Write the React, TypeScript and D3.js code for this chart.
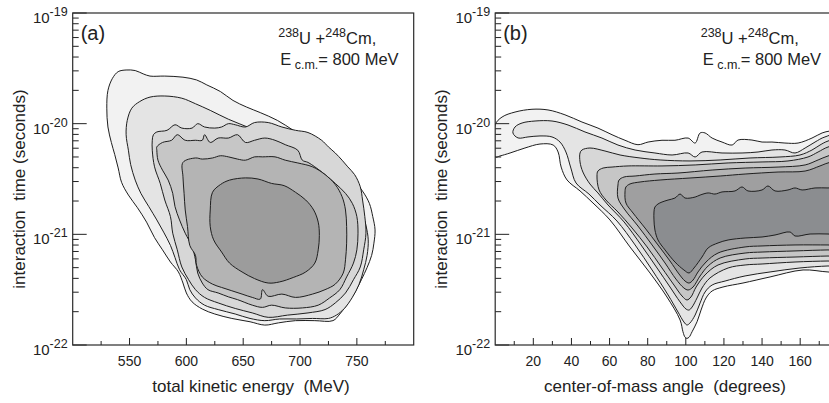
import React, { useRef, useEffect } from 'react';
import * as d3 from 'd3';

type Pt = [number, number];

// panel (a) contours: [total kinetic energy (MeV), log10 of interaction time (s)]
const tkeLevel1: Pt[] = [[531,-19.70],[535,-19.59],[540,-19.53],[547,-19.515],[555,-19.52],[562,-19.55],[568,-19.57],[581,-19.57],[597,-19.58],[609,-19.605],[618,-19.65],[630,-19.71],[641,-19.79],[653,-19.85],[665,-19.90],[680,-19.97],[694,-20.06],[707,-20.15],[716,-20.21],[720,-20.28],[726,-20.34],[737,-20.41],[746,-20.50],[755,-20.61],[761,-20.72],[764,-20.84],[766,-20.96],[765,-21.08],[763,-21.19],[759,-21.30],[754,-21.41],[748,-21.53],[741,-21.64],[735,-21.72],[729,-21.78],[713,-21.78],[696,-21.78],[681,-21.80],[669,-21.82],[656,-21.79],[640,-21.76],[625,-21.72],[614,-21.675],[605,-21.61],[600,-21.53],[597,-21.44],[593,-21.34],[586,-21.25],[579,-21.14],[572,-21.03],[565,-20.89],[557,-20.76],[549,-20.645],[543,-20.53],[540,-20.40],[537,-20.28],[534,-20.17],[531,-20.03],[530,-19.86]];
const tkeLevel2: Pt[] = [[552,-19.86],[559,-19.80],[568,-19.76],[581,-19.75],[596,-19.77],[608,-19.82],[621,-19.88],[637,-19.96],[656,-20.04],[675,-20.13],[694,-20.20],[707,-20.265],[716,-20.33],[722,-20.38],[729,-20.455],[740,-20.545],[748,-20.65],[754,-20.78],[758,-20.92],[760,-21.05],[759,-21.19],[756,-21.32],[752,-21.45],[746,-21.57],[739,-21.67],[732,-21.73],[725,-21.76],[711,-21.76],[697,-21.765],[682,-21.765],[669,-21.78],[656,-21.76],[643,-21.72],[628,-21.68],[616,-21.64],[608,-21.575],[603,-21.50],[600,-21.41],[594,-21.32],[590,-21.21],[586,-21.10],[580,-20.98],[574,-20.87],[567,-20.75],[560,-20.63],[555,-20.51],[551,-20.37],[549,-20.24],[547,-20.10],[548,-19.97]];
const tkeLevel3: Pt[] = [[571,-20.10],[574,-20.075],[583,-20.06],[590,-20.01],[596,-20.04],[605,-20.04],[610,-20.00],[616,-20.03],[625,-20.04],[631,-20.03],[637,-20.00],[643,-20.01],[652,-20.03],[660,-19.99],[672,-19.99],[684,-20.03],[696,-20.06],[707,-20.08],[719,-20.15],[725,-20.21],[731,-20.265],[737,-20.33],[742,-20.39],[748,-20.46],[753,-20.57],[755,-20.69],[757,-20.84],[758,-20.99],[756,-21.14],[753,-21.295],[747,-21.41],[740,-21.53],[731,-21.62],[722,-21.68],[707,-21.71],[689,-21.73],[672,-21.75],[658,-21.71],[643,-21.67],[628,-21.62],[616,-21.57],[608,-21.50],[602,-21.41],[596,-21.295],[592,-21.14],[588,-20.99],[586,-20.84],[581,-20.69],[577,-20.54],[572,-20.39],[570,-20.24],[570,-20.15]];
const tkeLevel4: Pt[] = [[574,-20.21],[579,-20.17],[587,-20.15],[592,-20.10],[599,-20.15],[608,-20.15],[614,-20.15],[616,-20.10],[621,-20.17],[628,-20.13],[637,-20.13],[645,-20.10],[652,-20.17],[660,-20.15],[669,-20.13],[678,-20.15],[687,-20.19],[698,-20.24],[702,-20.33],[707,-20.35],[713,-20.39],[722,-20.46],[731,-20.54],[740,-20.63],[746,-20.72],[750,-20.84],[751,-20.99],[750,-21.14],[747,-21.26],[741,-21.385],[735,-21.50],[726,-21.575],[716,-21.64],[702,-21.665],[687,-21.665],[675,-21.64],[667,-21.66],[658,-21.64],[645,-21.59],[637,-21.565],[628,-21.53],[619,-21.50],[614,-21.44],[610,-21.35],[608,-21.23],[605,-21.11],[599,-20.99],[594,-20.87],[590,-20.75],[588,-20.63],[584,-20.51],[579,-20.42],[575,-20.33],[574,-20.24]];
const tkeLevel5: Pt[] = [[597,-20.35],[608,-20.31],[614,-20.32],[623,-20.31],[630,-20.29],[637,-20.30],[645,-20.32],[652,-20.33],[660,-20.30],[667,-20.30],[678,-20.30],[687,-20.33],[698,-20.355],[711,-20.39],[722,-20.46],[731,-20.55],[737,-20.66],[740,-20.78],[741,-20.93],[741,-21.08],[740,-21.23],[738,-21.35],[731,-21.45],[722,-21.50],[711,-21.54],[696,-21.57],[684,-21.54],[672,-21.56],[667,-21.50],[665,-21.585],[658,-21.57],[649,-21.54],[640,-21.51],[631,-21.48],[623,-21.45],[614,-21.385],[609,-21.28],[608,-21.19],[603,-21.10],[601,-20.93],[599,-20.78],[598,-20.63],[597,-20.48]];
const tkeLevel6: Pt[] = [[623,-20.62],[630,-20.55],[638,-20.51],[652,-20.49],[663,-20.50],[675,-20.54],[686,-20.56],[696,-20.62],[705,-20.69],[712,-20.78],[716,-20.89],[717,-21.01],[716,-21.14],[713,-21.26],[705,-21.34],[694,-21.39],[682,-21.43],[672,-21.44],[660,-21.40],[649,-21.34],[638,-21.26],[631,-21.16],[624,-21.05],[621,-20.93],[621,-20.78]];

// panel (b) contours: [center-of-mass angle (deg), log10 of interaction time (s)]
const angleLevel1: Pt[] = [[0,-20.01],[3.6,-19.94],[10.4,-19.895],[19.3,-19.87],[27.7,-19.876],[36.6,-19.92],[45.5,-19.985],[53.9,-20.04],[61.3,-20.10],[68.1,-20.15],[74.9,-20.19],[80.2,-20.166],[87.5,-20.15],[94.3,-20.15],[101.2,-20.13],[104.9,-20.175],[107.5,-20.084],[110.1,-20.084],[113.8,-20.13],[119,-20.166],[124.3,-20.193],[127.4,-20.148],[134.7,-20.148],[140,-20.166],[145.2,-20.166],[152,-20.175],[158.9,-20.175],[166.2,-20.13],[171.5,-20.084],[175.7,-20.066],[183.5,-20.057],[183.5,-21.34],[174.6,-21.34],[161.5,-21.322],[144.2,-21.385],[130,-21.44],[119.5,-21.476],[113.8,-21.512],[110.6,-21.575],[108,-21.684],[105.9,-21.79],[103.3,-21.88],[101.7,-21.93],[100.6,-21.94],[99.6,-21.93],[98.5,-21.88],[97,-21.774],[90.1,-21.566],[81.2,-21.349],[70.7,-21.114],[60.2,-20.87],[51.3,-20.717],[44.5,-20.608],[37.7,-20.509],[34.6,-20.392],[33,-20.256],[30.4,-20.193],[23.5,-20.184],[15.6,-20.22],[7.8,-20.265],[2.5,-20.292],[0,-20.301]];
const angleLevel2: Pt[] = [[9.3,-20.084],[10.4,-20.03],[14.1,-19.994],[20.9,-19.976],[29.8,-19.976],[38.2,-20.012],[47.1,-20.075],[56,-20.13],[64.4,-20.193],[73.4,-20.238],[83.8,-20.265],[92.8,-20.283],[101.2,-20.265],[104.9,-20.301],[108.5,-20.256],[119,-20.265],[129.5,-20.265],[137.9,-20.256],[145.2,-20.238],[152,-20.238],[157.3,-20.265],[162.6,-20.22],[167.8,-20.166],[173,-20.12],[183.5,-20.093],[183.5,-21.286],[174.6,-21.286],[159.9,-21.304],[144.2,-21.34],[131.1,-21.376],[120.6,-21.422],[113.8,-21.458],[110.1,-21.521],[107.5,-21.62],[104.9,-21.729],[102.2,-21.801],[100.6,-21.819],[99,-21.792],[95.9,-21.702],[90.7,-21.548],[82.3,-21.322],[73.4,-21.096],[63.9,-20.88],[55,-20.735],[49.2,-20.636],[42.4,-20.536],[39.7,-20.401],[37.1,-20.256],[34,-20.166],[29.8,-20.12],[23.5,-20.111],[17.2,-20.12],[12,-20.129]];
const angleLevel3: Pt[] = [[44.5,-20.265],[45.5,-20.238],[49.7,-20.22],[57.6,-20.247],[65.5,-20.283],[76,-20.31],[86.5,-20.328],[102.2,-20.337],[118,-20.328],[133.7,-20.31],[149.4,-20.301],[159.9,-20.283],[166.2,-20.238],[170.4,-20.193],[174.6,-20.157],[183.5,-20.13],[183.5,-21.241],[174.6,-21.241],[157.3,-21.25],[140,-21.268],[131.1,-21.277],[122.2,-21.304],[112.7,-21.394],[108.5,-21.485],[105.9,-21.575],[103.3,-21.657],[101.7,-21.684],[100.1,-21.675],[97,-21.611],[91.7,-21.476],[84.9,-21.304],[76.5,-21.096],[67.6,-20.888],[59.2,-20.735],[53.9,-20.626],[49.7,-20.545],[46,-20.437],[44.5,-20.346]];
const angleLevel4: Pt[] = [[53.4,-20.473],[53.9,-20.428],[56.6,-20.401],[61.3,-20.392],[69.7,-20.382],[87.5,-20.382],[104.9,-20.373],[122.2,-20.355],[140,-20.346],[153.6,-20.337],[164.1,-20.301],[169.4,-20.256],[174.6,-20.211],[183.5,-20.184],[183.5,-21.196],[174.6,-21.196],[157.3,-21.205],[140,-21.214],[131.1,-21.223],[116.9,-21.277],[110.1,-21.367],[105.4,-21.476],[102.7,-21.566],[100.6,-21.593],[98,-21.557],[93.8,-21.458],[87.5,-21.304],[79.7,-21.114],[71.8,-20.943],[64.4,-20.798],[58.1,-20.69],[54.5,-20.599]];
const angleLevel5: Pt[] = [[64.4,-20.554],[65,-20.509],[67.6,-20.482],[73.4,-20.473],[83.8,-20.455],[95.9,-20.446],[113.8,-20.419],[131.1,-20.401],[148.4,-20.392],[162.6,-20.373],[169.4,-20.328],[174.6,-20.292],[183.5,-20.256],[183.5,-21.141],[174.6,-21.141],[157.3,-21.15],[140,-21.16],[131.1,-21.169],[118,-21.214],[111.7,-21.286],[107.5,-21.376],[103.8,-21.476],[101.2,-21.503],[99,-21.485],[94.8,-21.404],[89.1,-21.259],[82.3,-21.096],[74.9,-20.925],[68.1,-20.78],[64.4,-20.672]];
const angleLevel6: Pt[] = [[68.1,-20.617],[68.6,-20.572],[70.7,-20.545],[76,-20.527],[86.5,-20.509],[102.2,-20.491],[118,-20.473],[131.1,-20.455],[148.4,-20.437],[162.6,-20.428],[170.4,-20.382],[174.6,-20.355],[183.5,-20.328],[183.5,-21.096],[174.6,-21.096],[157.3,-21.096],[140,-21.105],[131.1,-21.114],[116.9,-21.169],[110.6,-21.25],[106.4,-21.34],[103.8,-21.413],[101.7,-21.44],[99.6,-21.422],[96.4,-21.358],[91.7,-21.241],[85.4,-21.096],[78.6,-20.943],[72.3,-20.807],[68.6,-20.717]];
const angleLevel7: Pt[] = [[83.3,-20.798],[83.8,-20.753],[85.4,-20.726],[87.5,-20.708],[90.7,-20.69],[94.3,-20.672],[97,-20.636],[99.6,-20.672],[104.9,-20.663],[107.5,-20.645],[111.7,-20.626],[115.3,-20.636],[119,-20.617],[125.8,-20.608],[129.5,-20.572],[132.6,-20.608],[140,-20.599],[143.1,-20.563],[146.8,-20.608],[153.6,-20.599],[157.3,-20.581],[161,-20.599],[167.8,-20.581],[174.6,-20.581],[183.5,-20.581],[183.5,-21.0],[174.6,-20.997],[165.2,-20.997],[157.3,-21.015],[154.7,-20.979],[146.8,-21.006],[140,-21.024],[131.1,-21.033],[122.2,-21.051],[116.9,-21.078],[111.7,-21.123],[108.5,-21.205],[104.3,-21.304],[101.7,-21.349],[99,-21.322],[94.3,-21.25],[89.1,-21.141],[85.4,-21.051],[83.8,-20.961],[83.3,-20.87]];

const tkeLevels = [tkeLevel1, tkeLevel2, tkeLevel3, tkeLevel4, tkeLevel5, tkeLevel6];
const angleLevels = [angleLevel1, angleLevel2, angleLevel3, angleLevel4, angleLevel5, angleLevel6, angleLevel7];

const energyTicks = [550, 600, 650, 700, 750];
const energyMinorTicks = [525, 575, 625, 675, 725, 775];
const angleTicks = [20, 40, 60, 80, 100, 120, 140, 160];
const angleMinorTicks = [10, 30, 50, 70, 90, 110, 130, 150, 170];
const decadeExponents = [-22, -21, -20, -19];

const tkeFills = ['#f2f2f2', '#e4e4e4', '#d7d7d7', '#c6c6c6', '#b4b4b4', '#9c9c9c'];
const angleFills = ['#f2f2f2', '#e4e4e4', '#d7d7d7', '#c6c6c6', '#b4b4b4', '#9f9fa0', '#8b8d90'];

const FONT = "'Liberation Sans', Arial, Helvetica, sans-serif";

const drawPanel = (svg, opts) => {
    const { x, y, levels, fills, majorX, minorX, tag, xTitle, xTitleX, clipId } = opts;
    const [left, right] = x.range();
    const [bottom, top] = y.range();

    svg.append('defs').append('clipPath').attr('id', clipId)
        .append('rect')
        .attr('x', left).attr('y', top)
        .attr('width', right - left).attr('height', bottom - top);

    const contour = d3.line<Pt>()
        .x(d => x(d[0]))
        .y(d => y(Math.pow(10, d[1])))
        .curve(d3.curveCatmullRomClosed.alpha(0.5));

    const g = svg.append('g').attr('clip-path', `url(#${clipId})`);
    levels.forEach((lv, i) => {
        g.append('path')
            .attr('d', contour(lv))
            .attr('fill', fills[i])
            .attr('stroke', '#1e1e1e')
            .attr('stroke-width', 1)
            .attr('stroke-linejoin', 'round');
    });

    // log ticks on the left, pointing inward
    svg.selectAll(null)
        .data(y.ticks())
        .join('line')
        .attr('x1', left)
        .attr('x2', d => {
            const e = Math.log10(d);
            return left + (Math.abs(e - Math.round(e)) < 1e-6 ? 14 : 6);
        })
        .attr('y1', d => y(d)).attr('y2', d => y(d))
        .attr('stroke', '#222').attr('stroke-width', 1);

    // x ticks pointing up
    svg.selectAll(null).data(majorX).join('line')
        .attr('x1', d => x(d)).attr('x2', d => x(d))
        .attr('y1', bottom).attr('y2', bottom - 7)
        .attr('stroke', '#222').attr('stroke-width', 1);
    svg.selectAll(null).data(minorX).join('line')
        .attr('x1', d => x(d)).attr('x2', d => x(d))
        .attr('y1', bottom).attr('y2', bottom - 4)
        .attr('stroke', '#222').attr('stroke-width', 1);

    // frame
    svg.append('rect')
        .attr('x', left).attr('y', top)
        .attr('width', right - left).attr('height', bottom - top)
        .attr('fill', 'none').attr('stroke', '#2a2a2a').attr('stroke-width', 1.2);

    // y tick labels 10^n
    const yl = svg.selectAll(null).data(decadeExponents).join('text')
        .attr('x', left - 5)
        .attr('y', d => y(Math.pow(10, d)) + 10)
        .attr('text-anchor', 'end')
        .attr('font-family', FONT)
        .attr('fill', '#222');
    yl.append('tspan').attr('font-size', 15).text('10');
    yl.append('tspan').attr('font-size', 12.5).attr('dy', -7).text(d => `${d}`);

    svg.selectAll(null).data(majorX).join('text')
        .attr('x', d => x(d)).attr('y', 366)
        .attr('text-anchor', 'middle')
        .attr('font-family', FONT).attr('font-size', 14).attr('fill', '#222')
        .text(d => d);

    svg.append('text')
        .attr('x', xTitleX).attr('y', 392)
        .attr('text-anchor', 'middle')
        .attr('font-family', FONT).attr('font-size', 17).attr('fill', '#222')
        .style('white-space', 'pre')
        .text(xTitle);

    svg.append('text')
        .attr('transform', `translate(${left - 48},189) rotate(-90)`)
        .attr('text-anchor', 'middle')
        .attr('font-family', FONT).attr('font-size', 17).attr('fill', '#222')
        .style('white-space', 'pre')
        .text('interaction  time (seconds)');

    svg.append('text')
        .attr('x', left + 8).attr('y', 40)
        .attr('font-family', FONT).attr('font-size', 20).attr('fill', '#222')
        .text(tag);

    // reaction label
    const r1 = svg.append('text')
        .attr('x', left + 205.5).attr('y', 44)
        .attr('font-family', FONT).attr('font-size', 16.5).attr('fill', '#222');
    r1.append('tspan').attr('font-size', 12.5).attr('dy', -7).text('238');
    r1.append('tspan').attr('dy', 7).text('U +');
    r1.append('tspan').attr('font-size', 12.5).attr('dy', -7).text('248');
    r1.append('tspan').attr('dy', 7).text('Cm,');

    const r2 = svg.append('text')
        .attr('x', left + 207.5).attr('y', 65)
        .attr('font-family', FONT).attr('font-size', 16.5).attr('fill', '#222');
    r2.append('tspan').text('E');
    r2.append('tspan').attr('font-size', 12.5).attr('dy', 4).text(' c.m.');
    r2.append('tspan').attr('dy', -4).text('= 800 MeV');
};

const App = () => {
    const svgRef = useRef<SVGSVGElement>(null);

    useEffect(() => {
        const svg = d3.select(svgRef.current);
        svg.selectAll('*').remove();

        const y = d3.scaleLog().domain([1e-22, 1e-19]).range([345, 13]);
        const xA = d3.scaleLinear().domain([500, 800]).range([72.7, 413.7]);
        const xB = d3.scaleLinear().domain([0, 180]).range([495.2, 838.3]);

        drawPanel(svg, {
            x: xA, y, levels: tkeLevels, fills: tkeFills,
            majorX: energyTicks, minorX: energyMinorTicks,
            tag: '(a)', xTitle: 'total kinetic energy  (MeV)', xTitleX: 251, clipId: 'clipA'
        });
        drawPanel(svg, {
            x: xB, y, levels: angleLevels, fills: angleFills,
            majorX: angleTicks, minorX: angleMinorTicks,
            tag: '(b)', xTitle: 'center-of-mass angle  (degrees)', xTitleX: 665, clipId: 'clipB'
        });
    }, []);

    return (
        <svg ref={svgRef} width={829} height={403}
            style={{ position: 'absolute', left: 0, top: 0, background: '#fff' }} />
    );
};

export default App;
